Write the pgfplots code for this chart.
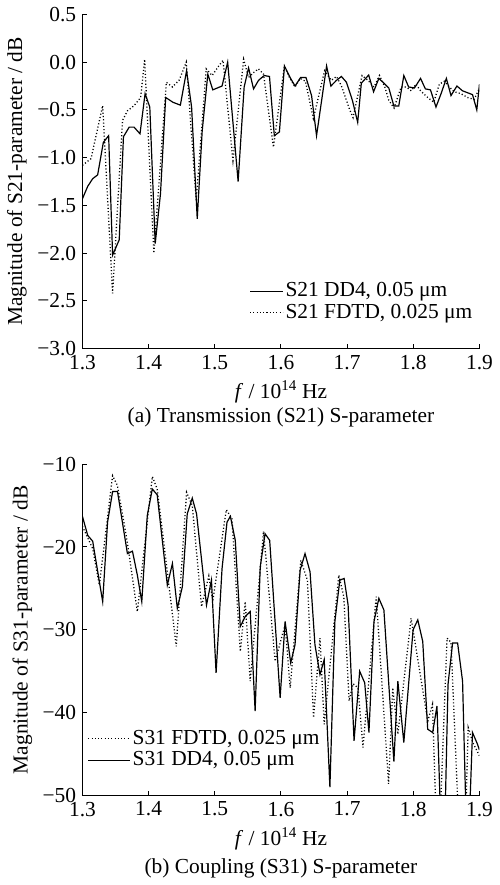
\documentclass[border=0pt]{standalone}
\usepackage{pgfplots}
\pgfplotsset{compat=1.18}
\usepackage{fontspec}
\setmainfont{Liberation Serif}
\begin{document}
\fontsize{21.5bp}{24bp}\selectfont
\begin{tikzpicture}
\pgfplotsset{
  myax/.style={
    scale only axis, width=399bp,
    axis x line*=bottom, axis y line*=left,
    tick align=inside, major tick length=5bp,
    xmin=1.3, xmax=1.9,
    xtick={1.3,1.4,1.5,1.6,1.7,1.8,1.9},
    xticklabels={1.3,1.4,1.5,1.6,1.7,1.8,1.9},
    axis line style={line width=1bp},
    every tick/.style={line width=1bp, black},
    xticklabel style={yshift=1bp},
    yticklabel style={xshift=1bp},
    xlabel={\textit{f} / 10\textsuperscript{14} Hz},
    xlabel style={yshift=3bp},
    ylabel style={yshift=-4bp},
    legend cell align=left,
    legend style={draw=none, fill=none, row sep=0bp, inner xsep=1bp, font=\fontsize{21.5bp}{24bp}\selectfont},
    solidl/.style={black, line width=1.2bp},
    dotl/.style={black, line width=1.3bp, dash pattern=on 1.1bp off 2.2bp},
  }
}
\begin{axis}[myax, name=ax1, height=336bp,
  ymin=-3, ymax=0.5,
  ytick={-3,-2.5,-2,-1.5,-1,-0.5,0,0.5},
  yticklabels={−3.0,−2.5,−2.0,−1.5,−1.0,−0.5,0.0,0.5},
  ylabel={Magnitude of S21-parameter / dB},
  legend style={at={(0.99,0.21)}, anchor=north east},
  legend image code/.code={\draw[#1] (0bp,0bp) -- (33bp,0bp);},
]
\addplot[solidl] coordinates {
(1.300,-1.43) (1.308,-1.30) (1.3155,-1.22) (1.323,-1.18) (1.3316,-0.84) (1.3396,-0.77)
(1.3456,-2.02) (1.3556,-1.86) (1.362,-0.78) (1.3707,-0.68) (1.378,-0.68) (1.387,-0.75)
(1.3947,-0.33) (1.4018,-0.47) (1.410,-1.90) (1.418,-1.375) (1.4258,-0.37) (1.4368,-0.42)
(1.448,-0.45) (1.4574,-0.09) (1.465,-0.47) (1.4735,-1.64) (1.481,-0.72) (1.4895,-0.125)
(1.497,-0.29) (1.511,-0.25) (1.5195,0.00) (1.5353,-1.25) (1.5444,-0.26) (1.5511,-0.06)
(1.5586,-0.28) (1.5662,-0.19) (1.5747,-0.14) (1.5827,-0.15) (1.590,-0.77) (1.5977,-0.73)
(1.6053,-0.04) (1.6138,-0.16) (1.6213,-0.25) (1.6298,-0.16) (1.6378,-0.16) (1.6463,-0.35)
(1.6538,-0.77) (1.669,-0.04) (1.6755,-0.25) (1.684,-0.19) (1.6914,-0.15) (1.699,-0.21)
(1.708,-0.40) (1.716,-0.63) (1.7215,-0.22) (1.7326,-0.135) (1.740,-0.31) (1.748,-0.17)
(1.7556,-0.22) (1.763,-0.27) (1.7707,-0.46) (1.778,-0.46) (1.7857,-0.14) (1.793,-0.26)
(1.8018,-0.27) (1.811,-0.17) (1.8183,-0.28) (1.826,-0.29) (1.8343,-0.47) (1.842,-0.33)
(1.850,-0.17) (1.857,-0.35) (1.866,-0.25) (1.8744,-0.30) (1.882,-0.32) (1.8895,-0.34)
(1.896,-0.50) (1.900,-0.23)
};
\addlegendentry{S21 DD4, 0.05 μm}
\addplot[dotl] coordinates {
(1.300,-1.08) (1.313,-1.01) (1.3306,-0.455) (1.3456,-2.42) (1.3606,-0.61) (1.368,-0.51)
(1.378,-0.455) (1.388,-0.37) (1.394,0.03) (1.408,-2.0) (1.4268,-0.21) (1.436,-0.26)
(1.446,-0.19) (1.457,0.00) (1.472,-1.44) (1.487,-0.07) (1.496,-0.14) (1.506,-0.04)
(1.5125,0.02) (1.5275,-1.03) (1.5436,0.03) (1.551,-0.16) (1.5586,-0.11) (1.566,-0.07)
(1.5737,-0.125) (1.5887,-0.89) (1.6053,-0.04) (1.6128,-0.16) (1.6213,-0.26) (1.629,-0.17)
(1.637,-0.20) (1.649,-0.59) (1.666,-0.09) (1.676,-0.19) (1.684,-0.15) (1.6915,-0.25)
(1.704,-0.50) (1.709,-0.58) (1.7226,-0.14) (1.7315,-0.19) (1.7406,-0.26) (1.749,-0.14)
(1.757,-0.26) (1.763,-0.40) (1.771,-0.48) (1.7816,-0.26) (1.789,-0.26) (1.797,-0.30)
(1.804,-0.23) (1.811,-0.30) (1.8218,-0.37) (1.831,-0.42) (1.8394,-0.23) (1.847,-0.20)
(1.8544,-0.26) (1.862,-0.31) (1.872,-0.33) (1.882,-0.37) (1.892,-0.39) (1.8995,-0.28)
};
\addlegendentry{S21 FDTD, 0.025 μm}
\end{axis}
\node[yshift=-69bp] at (ax1.south) {(a) Transmission (S21) S-parameter};

\begin{axis}[myax, name=ax2, height=333bp, at={(0,-449bp)}, anchor=south west,
  ymin=-50, ymax=-10,
  ytick={-50,-40,-30,-20,-10},
  yticklabels={−50,−40,−30,−20,−10},
  ylabel={Magnitude of S31-parameter / dB},
  legend style={at={(0.01,0.21)}, anchor=north west},
  legend image code/.code={\draw[#1] (0bp,0bp) -- (42bp,0bp);},
]
\addplot[dotl] coordinates {
(1.300,-17.5) (1.3155,-20.2) (1.3256,-24.6) (1.3456,-11.4) (1.353,-12.6) (1.368,-19.5)
(1.383,-27.8) (1.4056,-11.5) (1.413,-13.0) (1.4283,-23.0) (1.4418,-32.0) (1.4574,-13.4)
(1.466,-15.0) (1.480,-27.2) (1.491,-23.5) (1.497,-26.5) (1.5175,-15.5) (1.526,-16.6)
(1.5386,-32.6) (1.546,-26.6) (1.5536,-36.2) (1.5737,-18.1) (1.5912,-33.8) (1.6063,-29.4)
(1.614,-37.0) (1.630,-21.6) (1.640,-24.0) (1.6493,-40.6) (1.659,-31.0) (1.6654,-41.4)
(1.6875,-23.4) (1.695,-26.0) (1.703,-38.6) (1.709,-36.5) (1.7165,-37.0) (1.724,-44.2)
(1.744,-26.0) (1.7627,-48.6) (1.769,-37.0) (1.7767,-42.6) (1.7967,-28.6) (1.822,-41.0)
(1.829,-39.0) (1.8358,-56) (1.839,-56) (1.851,-31.0) (1.857,-31.5) (1.870,-56)
(1.878,-56) (1.883,-41.8) (1.890,-43.6) (1.900,-45.2)
};
\addlegendentry{S31 FDTD, 0.025 μm}
\addplot[solidl] coordinates {
(1.300,-16.3) (1.308,-18.6) (1.3155,-19.3) (1.3306,-26.6) (1.338,-17.0) (1.3456,-13.3)
(1.353,-13.3) (1.368,-20.8) (1.3756,-20.5) (1.383,-23.4) (1.3897,-26.6) (1.398,-16.2)
(1.4056,-13.0) (1.413,-13.7) (1.4283,-24.6) (1.436,-22.0) (1.4434,-27.4) (1.451,-24.8)
(1.4584,-16.0) (1.466,-14.1) (1.4725,-16.0) (1.4875,-27.0) (1.495,-24.0) (1.502,-35.2)
(1.511,-22.6) (1.5185,-17.0) (1.5236,-16.3) (1.531,-19.2) (1.5386,-29.6) (1.546,-28.4)
(1.5536,-27.8) (1.561,-39.8) (1.5687,-22.4) (1.576,-18.4) (1.583,-19.2) (1.5988,-38.2)
(1.6063,-29.0) (1.6148,-34.0) (1.6213,-31.8) (1.629,-22.8) (1.6364,-20.8) (1.644,-23.0)
(1.6514,-31.8) (1.659,-35.4) (1.6654,-33.6) (1.674,-49.0) (1.6815,-29.0) (1.689,-24.0)
(1.6955,-23.8) (1.7015,-27.0) (1.7105,-43.4) (1.719,-35.0) (1.7266,-36.4) (1.733,-42.4)
(1.7406,-29.0) (1.748,-26.2) (1.7556,-27.6) (1.7707,-45.9) (1.7767,-36.2) (1.7857,-43.6)
(1.7997,-30.0) (1.8068,-28.8) (1.8143,-31.4) (1.8218,-42.0) (1.8293,-42.4) (1.8358,-39.2)
(1.8435,-58) (1.8465,-58) (1.8525,-36.6) (1.8594,-31.6) (1.867,-31.6) (1.8745,-36.2)
(1.8815,-58) (1.8825,-58) (1.8895,-42.4) (1.897,-43.8) (1.900,-44.5)
};
\addlegendentry{S31 DD4, 0.05 μm}
\end{axis}
\node[yshift=-73bp] at (ax2.south) {(b) Coupling (S31) S-parameter};
\end{tikzpicture}
\end{document}
